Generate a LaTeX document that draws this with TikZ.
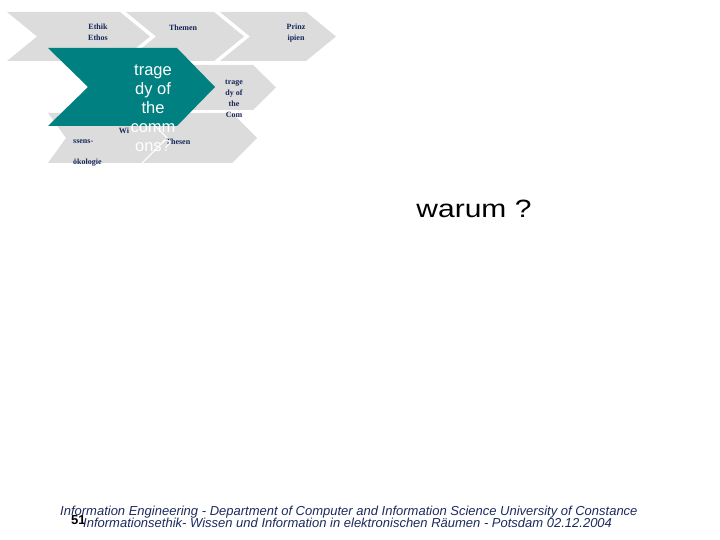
\documentclass[tikz,border=0pt]{standalone}
\usepackage{fontspec}
\setmainfont{Liberation Serif}
\setsansfont{Liberation Sans}
\usepackage{tikz}
\usetikzlibrary{positioning}
\definecolor{ChevGray}{RGB}{220,220,220}
\definecolor{CommonsTeal}{RGB}{0,128,128}
\definecolor{LabelNavy}{RGB}{22,38,88}
\definecolor{FooterNavy}{RGB}{28,42,92}
\tikzset{
  grayshape/.style={fill=ChevGray},
  tealshape/.style={fill=CommonsTeal},
  chevlabel/.style={inner sep=0pt,align=center,text=LabelNavy,font=\bfseries\fontsize{8}{11}\selectfont},
  teallabel/.style={inner sep=0pt,align=center,text=white,font=\sffamily\fontsize{16.5}{19}\selectfont},
  bigquestion/.style={inner sep=0pt,anchor=base,font=\sffamily\fontsize{25}{30}\selectfont},
  footerline/.style={inner sep=0pt,anchor=base west,text=FooterNavy,font=\sffamily\itshape\fontsize{13}{13}\selectfont}
}
\begin{document}
\begin{tikzpicture}[x=1pt,y=-1pt]
\useasboundingbox (0,0) rectangle (720,540);
% top row
\fill[grayshape] (7,12) -- (120,12) -- (150,36.5) -- (120,61) -- (7,61) -- (37,36.5) -- cycle;
\fill[grayshape] (126,12) -- (214,12) -- (244,36.5) -- (214,61) -- (126,61) -- (156,36.5) -- cycle;
\fill[grayshape] (220,12) -- (306,12) -- (336,36.5) -- (306,61) -- (220,61) -- (250,36.5) -- cycle;
% middle row, behind the teal one
\fill[grayshape] (150,65) -- (253,65) -- (276,87.5) -- (253,110) -- (150,110) -- (172,87.5) -- cycle;
% bottom row
\fill[grayshape] (48,113) -- (141,113) -- (166,138) -- (141,163) -- (48,163) -- (66,138) -- cycle;
\fill[grayshape] (143,113) -- (232,113) -- (257,138) -- (232,163) -- (143,163) -- (168,138) -- cycle;
\fill[tealshape] (48,48) -- (177,48) -- (215,87) -- (177,126) -- (48,126) -- (88,87) -- cycle;

\node[chevlabel] (ethik) at (98,32.5) {Ethik\\Ethos};
\node[chevlabel] (themen) at (183,28) {Themen};
\node[chevlabel] (prinzipien) at (296,33.5) {Prinz\\ipien};
\node[chevlabel] (tragesmall) at (234,99) {trage\\dy of\\the\\Com};
\node[chevlabel] (wi) at (124,131) {Wi};
\node[chevlabel, anchor=west] (ssens) at (73,142) {ssens-};
\node[chevlabel, anchor=west] (oekologie) at (73,163) {ökologie};
\node[chevlabel] (thesen) at (178,142) {Thesen};
\node[teallabel] (tragedy) at (153,108) {trage\\dy of\\the\\comm\\ons?};

\node[bigquestion] (warum) at (474,218) {\scalebox{1.2}[1]{warum ?}};

\node[footerline] (footerone) at (60,515) {Information Engineering - Department of Computer and Information Science University of Constance};
\node[inner sep=0pt, anchor=base west, font=\sffamily\bfseries\fontsize{13}{13}\selectfont] (pagenum) at (71,524) {51};
\node[footerline] (footertwo) at (83,527) {Informationsethik- Wissen und Information in elektronischen Räumen -  Potsdam 02.12.2004};
\end{tikzpicture}
\end{document}
